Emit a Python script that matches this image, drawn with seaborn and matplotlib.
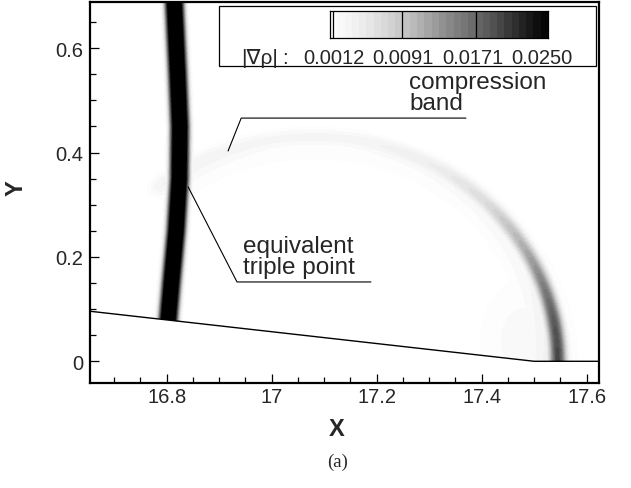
import numpy as np
import matplotlib
matplotlib.use("Agg")
import matplotlib.pyplot as plt
import seaborn as sns
from matplotlib.colors import Normalize
from matplotlib.patches import Rectangle
from matplotlib.ticker import FuncFormatter, MultipleLocator

# ---- data ----
# Mach stem ("equivalent triple point" column): centre line x at heights y
stem_y = [0.08, 0.15, 0.25, 0.35, 0.45, 0.55, 0.70]
stem_x = [16.803, 16.809, 16.818, 16.824, 16.825, 16.821, 16.814]
stem_peak = 0.032
stem_halfwidth = 0.0165

# reflected shock / compression band: roughly an ellipse around the wedge corner
arc_center = (17.08, 0.0)
arc_axes = (0.465, 0.43)
# |grad rho| peak, core width and halo level along the band, by angle (deg) from the wall
arc_angle = [0, 10, 20, 30, 45, 60, 80, 100, 125]
arc_peak = [0.0200, 0.0185, 0.0150, 0.0115, 0.0068, 0.0045, 0.0032, 0.0030, 0.0036]
arc_sigma = [0.011, 0.011, 0.011, 0.011, 0.012, 0.013, 0.014, 0.015, 0.016]
arc_halo = [0.0040, 0.0036, 0.0030, 0.0026, 0.0023, 0.0021, 0.0020, 0.0020, 0.0022]

# weak diffuse region behind the shock near the wall
blob_x, blob_y, blob_peak = 17.48, 0.04, 0.0024

# wedge wall
wall_x = [16.60, 17.50, 17.70]
wall_y = [0.102, 0.0, 0.0]

# contour legend
lev_min, lev_max, n_lev = 0.0012, 0.0250, 30
legend_labels = ["0.0012", "0.0091", "0.0171", "0.0250"]
legend_lines = [0.0091, 0.0171]

xlim = (16.654, 17.624)
ylim = (-0.0416, 0.689)

# ---- build the field ----
gx = np.linspace(16.64, 17.64, 900)
gy = np.linspace(-0.05, 0.70, 680)
X, Y = np.meshgrid(gx, gy)

# stem
sx = np.interp(Y, stem_y, stem_x)
d = np.abs(X - sx)
field = stem_peak / (1.0 + np.exp((d - stem_halfwidth) / 0.0035))

# compression band
ex = (X - arc_center[0]) / arc_axes[0]
ey = (Y - arc_center[1]) / arc_axes[1]
r = np.hypot(ex, ey)
theta = np.degrees(np.arctan2(ey, ex))
dist = (r - 1.0) * 0.45
pk = np.interp(theta, arc_angle, arc_peak)
sg = np.interp(theta, arc_angle, arc_sigma)
hl = np.interp(theta, arc_angle, arc_halo)
core = pk * np.exp(-0.5 * (dist / sg) ** 2)
halo = hl * np.exp(-0.5 * ((dist + 0.012) / 0.032) ** 2)
band = np.maximum(core, halo)
band = np.where(theta > 128, band * np.exp(-((theta - 128) / 4.0) ** 2), band)
field = np.maximum(field, band)

blob = blob_peak * np.exp(-0.5 * (((X - blob_x) / 0.07) ** 2 + ((Y - blob_y) / 0.10) ** 2))
field = np.maximum(field, blob)

# nothing below the wall
field = np.where(Y < np.interp(X, wall_x, wall_y), np.nan, field)

# ---- plot ----
sns.set_theme(style="ticks")
plt.rcParams["font.family"] = ["Liberation Sans", "DejaVu Sans"]

cmap = sns.color_palette("Greys", as_cmap=True)
levels = np.linspace(lev_min, lev_max, n_lev + 1)
norm = Normalize(lev_min, lev_max)

fig = plt.figure(figsize=(6.31, 4.89), dpi=100)
ax = fig.add_axes([90 / 631, 1 - 384 / 489, 509.3 / 631, 381.3 / 489])

ax.contourf(X, Y, field, levels=levels, cmap=cmap, norm=norm, extend="max")
ax.plot(wall_x, wall_y, color="black", lw=1.0)

ax.set_xlim(*xlim)
ax.set_ylim(*ylim)
ax.xaxis.set_major_locator(MultipleLocator(0.2))
ax.xaxis.set_minor_locator(MultipleLocator(0.05))
ax.yaxis.set_major_locator(MultipleLocator(0.2))
ax.yaxis.set_minor_locator(MultipleLocator(0.05))
fmt = FuncFormatter(lambda v, p: "%g" % round(v, 3))
ax.xaxis.set_major_formatter(fmt)
ax.yaxis.set_major_formatter(fmt)
ax.tick_params(which="both", direction="in", top=False, right=False, width=0.9, color="black")
ax.tick_params(which="major", length=6.5)
ax.tick_params(which="minor", length=4.2)
ax.tick_params(axis="x", which="major", labelsize=14.5, pad=3)
ax.tick_params(axis="y", which="major", labelsize=14.5, pad=5)
for s in ax.spines.values():
    s.set_linewidth(1.6)
    s.set_color("black")

ax.set_xlabel("X", fontsize=17, fontweight="bold")
ax.set_ylabel("Y", fontsize=17, fontweight="bold")
ax.xaxis.set_label_coords(0.485, -0.09)
ax.yaxis.set_label_coords(-0.122, 0.514)

# annotations
ax.plot([16.917, 16.942, 17.370], [0.403, 0.466, 0.466], color="black", lw=0.8)
ax.text(17.262, 0.474, "compression\nband", fontsize=17.5, ha="left", va="bottom",
        linespacing=0.95)
ax.plot([16.841, 16.934, 17.189], [0.334, 0.152, 0.152], color="black", lw=0.8)
ax.text(16.945, 0.160, "equivalent\ntriple point", fontsize=17.5, ha="left", va="bottom",
        linespacing=0.95)

# contour legend box
fig.patches.append(Rectangle((219 / 631, 1 - 67 / 489), 377 / 631, 60 / 489,
                             transform=fig.transFigure, facecolor="white",
                             edgecolor="black", lw=0.9, zorder=5))
cax = fig.add_axes([330 / 631, 1 - 39 / 489, 218 / 631, 27 / 489], zorder=6)
mids = 0.5 * (levels[:-1] + levels[1:])
cax.pcolormesh(levels, [0, 1], mids[np.newaxis, :], cmap=cmap, norm=norm)
cax.vlines(legend_lines + [levels[0] + 0.00035], 0, 1, color="black", lw=0.9)
cax.set_xlim(lev_min, lev_max)
cax.set_ylim(0, 1)
cax.set_xticks([])
cax.set_yticks([])
for s in cax.spines.values():
    s.set_linewidth(0.9)
    s.set_color("black")

fig.text(260 / 631, 1 - 58 / 489, "|\u2207\u03c1|", fontsize=15, ha="center", va="center",
         zorder=7)
fig.text(285 / 631, 1 - 58 / 489, ":", fontsize=15, ha="center", va="center", zorder=7)
for lab, px in zip(legend_labels, [334, 403, 473, 542]):
    fig.text(px / 631, 1 - 58 / 489, lab, fontsize=14.5, ha="center", va="center", zorder=7)

fig.text(338 / 631, 1 - 462 / 489, "(a)", fontsize=13.5, family="Liberation Serif",
         ha="center", va="center")

fig.savefig("out.png", dpi=100)
